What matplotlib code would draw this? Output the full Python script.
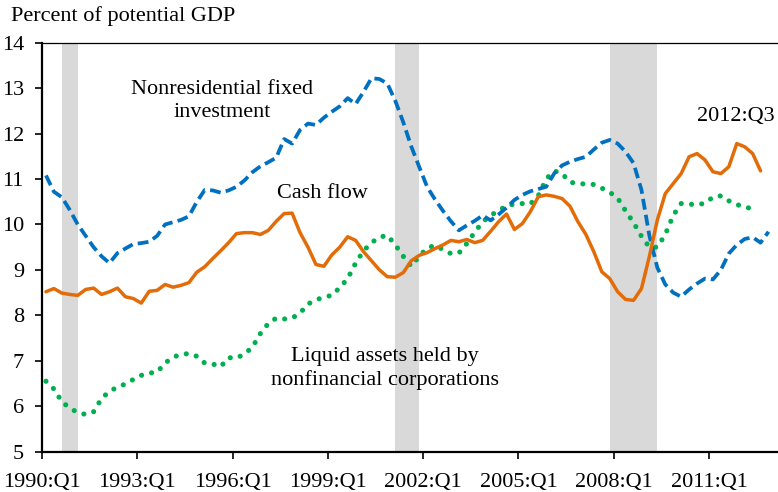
''' Cash flow, investment and liquid assets, 1990:Q1 - 2012:Q3 '''

import numpy as np
import matplotlib.pyplot as plt

# Data (percent of potential GDP), quarterly from 1990:Q1 ---------------------------
start_year = 1990

nonres_investment = [
    11.08, 10.72, 10.60, 10.32, 10.00, 9.75, 9.50, 9.30, 9.15, 9.37,
    9.47, 9.57, 9.59, 9.62, 9.75, 10.00, 10.05, 10.10, 10.18, 10.50,
    10.76, 10.75, 10.70, 10.75, 10.83, 10.97, 11.15, 11.28, 11.37, 11.47,
    11.88, 11.78, 12.08, 12.22, 12.19, 12.35, 12.48, 12.60, 12.78, 12.65,
    12.92, 13.22, 13.20, 13.10, 12.72, 12.25, 11.72, 11.27, 10.83, 10.55,
    10.30, 10.07, 9.87, 9.98, 10.08, 10.20, 10.09, 10.22, 10.37, 10.54,
    10.65, 10.73, 10.78, 10.83, 11.12, 11.30, 11.38, 11.44, 11.49, 11.65,
    11.80, 11.86, 11.78, 11.60, 11.35, 10.76, 9.75, 9.05, 8.68, 8.50,
    8.41, 8.57, 8.70, 8.81, 8.79, 9.00, 9.36, 9.55, 9.68, 9.72,
    9.60, 9.84]

cash_flow = [
    8.52, 8.59, 8.49, 8.46, 8.44, 8.57, 8.60, 8.46, 8.52, 8.60,
    8.41, 8.37, 8.27, 8.53, 8.55, 8.68, 8.62, 8.66, 8.72, 8.95,
    9.07, 9.25, 9.42, 9.60, 9.80, 9.82, 9.82, 9.78, 9.87, 10.07,
    10.24, 10.25, 9.82, 9.50, 9.12, 9.08, 9.33, 9.50, 9.73, 9.65,
    9.40, 9.20, 9.00, 8.85, 8.84, 8.94, 9.20, 9.32, 9.38, 9.47,
    9.55, 9.65, 9.62, 9.67, 9.60, 9.65, 9.85, 10.06, 10.23, 9.89,
    10.02, 10.28, 10.61, 10.65, 10.62, 10.57, 10.40, 10.06, 9.78, 9.40,
    8.96, 8.81, 8.52, 8.35, 8.33, 8.59, 9.30, 10.10, 10.68, 10.90,
    11.12, 11.49, 11.56, 11.42, 11.16, 11.12, 11.27, 11.78, 11.71, 11.56,
    11.18]

liquid_assets = [
    6.55, 6.38, 6.10, 5.96, 5.86, 5.82, 5.88, 6.17, 6.33, 6.42,
    6.49, 6.59, 6.68, 6.73, 6.75, 6.95, 7.08, 7.14, 7.16, 7.10,
    6.95, 6.93, 6.87, 7.07, 7.06, 7.15, 7.30, 7.60, 7.82, 7.94,
    7.92, 7.94, 8.05, 8.25, 8.34, 8.40, 8.44, 8.61, 8.81, 9.15,
    9.42, 9.60, 9.72, 9.76, 9.55, 9.30, 9.08, 9.30, 9.48, 9.54,
    9.45, 9.36, 9.37, 9.58, 9.83, 10.06, 10.20, 10.30, 10.41, 10.45,
    10.46, 10.45, 10.63, 11.00, 11.18, 11.12, 10.93, 10.90, 10.89, 10.88,
    10.80, 10.71, 10.58, 10.30, 10.04, 9.74, 9.50, 9.50, 9.78, 10.20,
    10.46, 10.45, 10.43, 10.47, 10.60, 10.63, 10.52, 10.44, 10.38, 10.35]

# NBER recessions (peak quarter, trough quarter)
recessions = [('1990:Q3', '1991:Q1'), ('2001:Q1', '2001:Q4'), ('2007:Q4', '2009:Q2')]

tick_labels = ['1990:Q1', '1993:Q1', '1996:Q1', '1999:Q1', '2002:Q1',
               '2005:Q1', '2008:Q1', '2011:Q1']


def q_index(label):
    '''Quarter label "YYYY:Qn" -> number of quarters since 1990:Q1'''
    year, q = label.split(':Q')
    return (int(year) - start_year) * 4 + int(q) - 1


plt.rcParams['font.family'] = ['Liberation Serif', 'DejaVu Serif']
fs = 16

fig = plt.figure(figsize=(7.78, 4.92), dpi=100)
ax = fig.add_axes([42/778, 1 - 451.7/492, 736/778, 409/492])

# Recession shading, from the peak quarter to the trough quarter
for peak, trough in recessions:
    ax.axvspan(q_index(peak) + 0.5, q_index(trough) + 0.5, color='#D9D9D9', lw=0, zorder=0)

# Each quarter is drawn in the middle of its slot
x_blue = np.arange(len(nonres_investment)) + 0.5
x_orange = np.arange(len(cash_flow)) + 0.5
x_green = np.arange(len(liquid_assets)) + 0.5

ax.plot(x_green, liquid_assets, color='#00B050', lw=3.7,
        ls=(0, (0.01, 2.0)), dash_capstyle='round', zorder=2)
ax.plot(x_blue, nonres_investment, color='#0070C0', lw=2.7,
        ls=(0, (2.9, 1.4)), zorder=3)
ax.plot(x_orange, cash_flow, color='#E36C09', lw=2.5,
        solid_capstyle='round', zorder=4)

# Labels on the chart
ax.text(22.7, 12.72, 'Nonresidential fixed\ninvestment', ha='center', va='center',
        fontsize=fs, linespacing=1.3)
ax.text(35.3, 10.69, 'Cash flow', ha='center', va='center', fontsize=fs)
ax.text(43.2, 6.83, 'Liquid assets held by\nnonfinancial corporations',
        ha='center', va='center', fontsize=fs, linespacing=1.3)
ax.text(87.4, 12.38, '2012:Q3', ha='center', va='center', fontsize=fs)
fig.text(11/778, 1 - 16/492, 'Percent of potential GDP', ha='left', va='center', fontsize=fs)

# Axes
ax.set_xlim(0, 736/7.94)
ax.set_ylim(5, 14)
ax.set_yticks(range(5, 15))
ax.set_xticks([q_index(t) for t in tick_labels])
ax.set_xticklabels(tick_labels)
ax.tick_params(axis='both', direction='out', labelsize=fs, width=1.2, color='black')
ax.tick_params(axis='y', length=5, pad=8)
ax.tick_params(axis='x', length=5, pad=10)

ax.spines['right'].set_visible(False)
ax.spines['left'].set_linewidth(1.6)
ax.spines['bottom'].set_linewidth(1.6)
ax.spines['top'].set_linewidth(0.9)

fig.savefig('out.png', dpi=100)
